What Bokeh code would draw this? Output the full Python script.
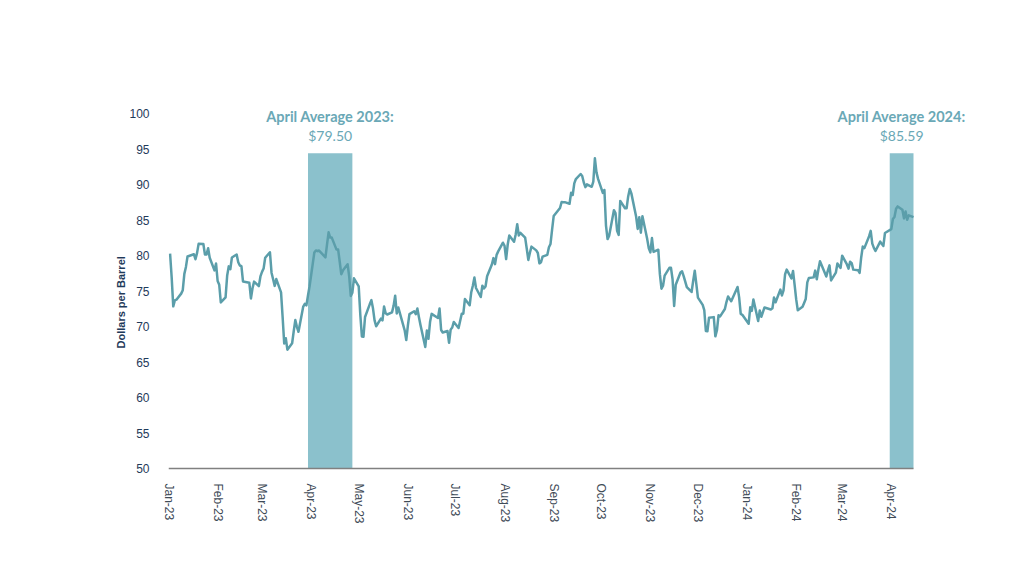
import pandas as pd
from bokeh.plotting import figure
from bokeh.models import Range1d, FixedTicker, DatetimeTickFormatter, Label, ColumnDataSource, Title
from bokeh.embed import file_html
from bokeh.resources import INLINE

# ---- data (daily crude price, $/bbl) ----
dates_2023 = [
    "2023-01-02","2023-01-03","2023-01-04","2023-01-05","2023-01-06","2023-01-09","2023-01-10","2023-01-11","2023-01-12","2023-01-13",
    "2023-01-17","2023-01-18","2023-01-19","2023-01-20","2023-01-23","2023-01-24","2023-01-25","2023-01-26","2023-01-27","2023-01-30","2023-01-31",
    "2023-02-01","2023-02-02","2023-02-03","2023-02-06","2023-02-07","2023-02-08","2023-02-09","2023-02-10","2023-02-13","2023-02-14",
    "2023-02-15","2023-02-16","2023-02-17","2023-02-21","2023-02-22","2023-02-23","2023-02-24","2023-02-27","2023-02-28",
    "2023-03-01","2023-03-02","2023-03-03","2023-03-06","2023-03-07","2023-03-08","2023-03-09","2023-03-10","2023-03-13","2023-03-14",
    "2023-03-15","2023-03-16","2023-03-17","2023-03-20","2023-03-21","2023-03-22","2023-03-23","2023-03-24","2023-03-27","2023-03-28",
    "2023-03-29","2023-03-30","2023-03-31",
    "2023-04-03","2023-04-04","2023-04-05","2023-04-06","2023-04-10","2023-04-11","2023-04-12","2023-04-13","2023-04-14","2023-04-17",
    "2023-04-18","2023-04-19","2023-04-20","2023-04-21","2023-04-24","2023-04-25","2023-04-26","2023-04-27","2023-04-28",
    "2023-05-01","2023-05-02","2023-05-03","2023-05-04","2023-05-05","2023-05-08","2023-05-09","2023-05-10","2023-05-11","2023-05-12",
    "2023-05-15","2023-05-16","2023-05-17","2023-05-18","2023-05-19","2023-05-22","2023-05-23","2023-05-24","2023-05-25","2023-05-26",
    "2023-05-30","2023-05-31",
    "2023-06-01","2023-06-02","2023-06-05","2023-06-06","2023-06-07","2023-06-08","2023-06-09","2023-06-12","2023-06-13","2023-06-14",
    "2023-06-15","2023-06-16","2023-06-20","2023-06-21","2023-06-22","2023-06-23","2023-06-26","2023-06-27","2023-06-28","2023-06-29","2023-06-30",
    "2023-07-03","2023-07-05","2023-07-06","2023-07-07","2023-07-10","2023-07-11","2023-07-12","2023-07-13","2023-07-14","2023-07-17",
    "2023-07-18","2023-07-19","2023-07-20","2023-07-21","2023-07-24","2023-07-25","2023-07-26","2023-07-27","2023-07-28","2023-07-31",
    "2023-08-01","2023-08-02","2023-08-03","2023-08-04","2023-08-07","2023-08-08","2023-08-09","2023-08-10","2023-08-11","2023-08-14",
    "2023-08-15","2023-08-16","2023-08-17","2023-08-18","2023-08-21","2023-08-22","2023-08-23","2023-08-24","2023-08-25","2023-08-28",
    "2023-08-29","2023-08-30","2023-08-31",
    "2023-09-01","2023-09-05","2023-09-06","2023-09-07","2023-09-08","2023-09-11","2023-09-12","2023-09-13","2023-09-14","2023-09-15",
    "2023-09-18","2023-09-19","2023-09-20","2023-09-21","2023-09-22","2023-09-25","2023-09-26","2023-09-27","2023-09-28","2023-09-29",
    "2023-10-02","2023-10-03","2023-10-04","2023-10-05","2023-10-06","2023-10-09","2023-10-10","2023-10-11","2023-10-12","2023-10-13",
    "2023-10-16","2023-10-17","2023-10-18","2023-10-19","2023-10-20","2023-10-23","2023-10-24","2023-10-25","2023-10-26","2023-10-27",
    "2023-10-30","2023-10-31",
    "2023-11-01","2023-11-02","2023-11-03","2023-11-06","2023-11-07","2023-11-08","2023-11-09","2023-11-10","2023-11-13","2023-11-14",
    "2023-11-15","2023-11-16","2023-11-17","2023-11-20","2023-11-21","2023-11-22","2023-11-24","2023-11-27","2023-11-28","2023-11-29","2023-11-30",
    "2023-12-01","2023-12-04","2023-12-05","2023-12-06","2023-12-07","2023-12-08","2023-12-11","2023-12-12","2023-12-13","2023-12-14",
    "2023-12-15","2023-12-18","2023-12-19","2023-12-20","2023-12-21","2023-12-22","2023-12-26","2023-12-27","2023-12-28","2023-12-29",
]
prices_2023 = [
    80.26, 76.93, 72.84, 73.67, 73.77, 74.63, 75.12, 77.41, 78.39, 79.86,
    80.18, 79.48, 80.33, 81.64, 81.62, 80.13, 80.15, 81.01, 79.68, 77.90, 78.87,
    76.41, 75.88, 73.39, 74.11, 77.14, 78.47, 78.06, 79.72, 80.14, 79.06,
    78.59, 78.49, 76.34, 76.16, 73.95, 75.39, 76.32, 75.68, 77.05,
    77.69, 78.16, 79.68, 80.46, 77.58, 76.66, 75.72, 76.68, 74.80, 71.33,
    67.61, 68.35, 66.74, 67.64, 69.33, 70.90, 69.96, 69.26, 72.81, 73.20,
    72.97, 74.37, 75.67,
    80.42, 80.71, 80.61, 80.70, 79.74, 81.53, 83.26, 82.52, 82.52, 80.83,
    80.86, 79.16, 77.37, 77.87, 78.76, 77.07, 74.30, 74.76, 76.78,
    75.66, 71.66, 68.60, 68.56, 71.34, 73.16, 73.71, 72.56, 70.87, 70.04,
    71.11, 70.86, 72.83, 71.86, 71.69, 71.99, 72.91, 74.34, 71.83, 72.67,
    69.46, 68.09,
    70.10, 71.74, 72.15, 71.74, 72.53, 71.29, 70.17, 67.12, 69.42, 68.27,
    70.62, 71.78, 71.19, 72.53, 69.51, 69.16, 69.37, 67.70, 69.56, 69.86, 70.64,
    69.79, 71.79, 71.80, 73.86, 72.99, 74.83, 75.75, 76.89, 75.42, 74.15,
    75.75, 75.35, 75.63, 77.07, 78.74, 79.63, 78.78, 80.09, 80.58, 81.80,
    81.37, 79.49, 81.55, 82.82, 81.94, 82.92, 84.40, 82.82, 83.19, 82.51,
    80.99, 79.38, 80.39, 81.25, 80.72, 80.35, 78.89, 79.05, 79.83, 80.10,
    81.16, 81.63, 83.63,
    85.55, 86.69, 87.54, 87.51, 87.51, 87.29, 88.84, 88.52, 90.16, 90.77,
    91.48, 91.20, 90.28, 89.63, 90.03, 89.68, 90.39, 93.68, 91.71, 90.79,
    88.82, 89.23, 84.22, 82.31, 82.79, 86.38, 85.97, 83.49, 82.91, 87.69,
    86.66, 86.66, 88.32, 89.37, 88.75, 85.49, 83.74, 85.39, 83.21, 85.54,
    82.31, 81.02,
    80.44, 82.46, 80.51, 80.82, 77.37, 75.33, 75.74, 77.17, 78.26, 78.26,
    76.66, 72.90, 75.89, 77.60, 77.77, 77.10, 75.54, 74.86, 76.41, 77.86, 75.96,
    74.07, 73.04, 72.32, 69.38, 69.34, 71.23, 71.32, 68.61, 69.47, 71.58,
    71.43, 72.47, 73.44, 74.22, 73.89, 73.56, 75.57, 74.11, 71.77, 71.65,
]
dates_2024 = [
    "2024-01-02","2024-01-03","2024-01-04","2024-01-05","2024-01-08","2024-01-09","2024-01-10","2024-01-11","2024-01-12","2024-01-16",
    "2024-01-17","2024-01-18","2024-01-19","2024-01-22","2024-01-23","2024-01-24","2024-01-25","2024-01-26","2024-01-29","2024-01-30","2024-01-31",
    "2024-02-01","2024-02-02","2024-02-05","2024-02-06","2024-02-07","2024-02-08","2024-02-09","2024-02-12","2024-02-13","2024-02-14",
    "2024-02-15","2024-02-16","2024-02-20","2024-02-21","2024-02-22","2024-02-23","2024-02-26","2024-02-27","2024-02-28","2024-02-29",
    "2024-03-01","2024-03-04","2024-03-05","2024-03-06","2024-03-07","2024-03-08","2024-03-11","2024-03-12","2024-03-13","2024-03-14",
    "2024-03-15","2024-03-18","2024-03-19","2024-03-20","2024-03-21","2024-03-22","2024-03-25","2024-03-26","2024-03-27","2024-03-28",
    "2024-04-01","2024-04-02","2024-04-03","2024-04-04","2024-04-05","2024-04-08","2024-04-09","2024-04-10","2024-04-11","2024-04-12","2024-04-15",
]
prices_2024 = [
    70.38, 72.70, 72.19, 73.81, 70.77, 72.24, 71.37, 72.02, 72.68, 72.40,
    72.56, 74.08, 73.41, 75.19, 74.37, 75.09, 77.36, 78.01, 76.78, 77.82, 75.85,
    73.82, 72.28, 72.78, 73.31, 73.86, 76.22, 76.84, 76.92, 77.87, 76.64,
    78.03, 79.19, 77.04, 77.91, 78.61, 76.49, 77.58, 78.87, 78.54, 78.26,
    79.97, 78.74, 78.15, 79.13, 78.93, 78.01, 77.93, 77.56, 79.72, 81.26,
    81.04, 82.72, 83.47, 81.68, 81.07, 80.63, 81.95, 81.62, 81.35, 83.17,
    83.71, 85.15, 85.43, 86.59, 86.91, 86.43, 85.23, 86.21, 85.02, 85.66, 85.41,
]

# April shading bands
band_left = ["2023-03-30", "2024-03-31"]
band_right = ["2023-04-27", "2024-04-15"]
band_top = [94.4, 94.4]
band_titles = ["April Average 2023:", "April Average 2024:"]
band_values = ["$79.50", "$85.59"]

month_ticks = pd.date_range("2023-01-01", "2024-04-01", freq="MS")
y_ticks = [50, 55, 60, 65, 70, 75, 80, 85, 90, 95, 100]

x_start, x_end = "2023-01-01", "2024-04-15"

# ---- layout helpers (the plotting frame is extended up/right so the
#      annotation text above the bands is not clipped) ----
LEFT_PX, RIGHT_PX, TOP_PX, BOTTOM_PX = 168, 913, 113, 468   # where x_start/x_end, 100/50 fall
FRAME_RIGHT, FRAME_TOP, FRAME_BOTTOM = 1012, 98, 470
YLABEL_BOTTOM_PX = 348
t0, t1 = pd.Timestamp(x_start), pd.Timestamp(x_end)
ms_per_px = (t1 - t0) / (RIGHT_PX - LEFT_PX)
val_per_px = 50.0 / (BOTTOM_PX - TOP_PX)
xr_end = t1 + ms_per_px * (FRAME_RIGHT - RIGHT_PX)
yr_end = 100 + val_per_px * (TOP_PX - FRAME_TOP)
yr_start = 50 - val_per_px * (FRAME_BOTTOM - BOTTOM_PX)

LINE = "#5b9eaa"
BAND = "#8bc1cc"
ANN = "#6aa8b6"
NAVY = "#1f3a5a"

p = figure(width=1024, height=576, x_axis_type="datetime",
           output_backend="svg", toolbar_location=None,
           x_range=Range1d(t0, xr_end), y_range=Range1d(yr_start, yr_end),
           min_border_left=LEFT_PX, min_border_right=1024 - FRAME_RIGHT,
           min_border_top=FRAME_TOP, min_border_bottom=576 - FRAME_BOTTOM)
p.outline_line_color = None
p.xgrid.grid_line_color = None
p.ygrid.grid_line_color = None
p.background_fill_color = "white"
p.border_fill_color = "white"

band_src = ColumnDataSource(dict(
    left=pd.to_datetime(band_left), right=pd.to_datetime(band_right),
    top=band_top, bottom=[50, 50]))
p.quad(left="left", right="right", top="top", bottom="bottom",
       source=band_src, fill_color=BAND, line_color=None)

# baseline (x axis line) from start to end of data period
p.segment(x0=[t0], y0=[50], x1=[t1], y1=[50], line_color="#808080", line_width=1.5)

xs = pd.to_datetime(dates_2023 + dates_2024)
ys = prices_2023 + prices_2024
p.line(xs, ys, line_width=2.5, line_color=LINE, line_join="round")

# annotations above bands
for l, r, t, v in zip(band_left, band_right, band_titles, band_values):
    cx = (pd.Timestamp(l).value + pd.Timestamp(r).value) / 2 / 1e6
    p.add_layout(Label(x=cx, y=99.6, text=t, text_align="center", text_baseline="middle",
                       text_font="Lato", text_font_style="bold", text_font_size="14.5px",
                       text_color=ANN))
    p.add_layout(Label(x=cx, y=96.9, text=v, text_align="center", text_baseline="middle",
                       text_font="Lato", text_font_size="14px", text_color=ANN))

# x axis
xa = p.xaxis[0]
xa.ticker = FixedTicker(ticks=[t.value / 1e6 for t in month_ticks])
fmt = "%b-%y"
xa.formatter = DatetimeTickFormatter(microseconds=fmt, milliseconds=fmt, seconds=fmt,
                                     minsec=fmt, minutes=fmt, hourmin=fmt, hours=fmt,
                                     days=fmt, months=fmt, years=fmt)
xa.major_label_orientation = "vertical"
xa.axis_line_color = None
xa.major_tick_line_color = None
xa.minor_tick_line_color = None
xa.major_label_standoff = 7
xa.major_label_text_font = "Liberation Sans"
xa.major_label_text_font_size = "12px"
xa.major_label_text_color = "#3f4b57"

# y axis
ya = p.yaxis[0]
ya.ticker = FixedTicker(ticks=y_ticks)
ya.axis_line_color = None
ya.major_tick_line_color = None
ya.minor_tick_line_color = None
ya.major_label_standoff = 13
ya.major_label_text_font = "Liberation Sans"
ya.major_label_text_font_size = "12px"
ya.major_label_text_color = NAVY

# y axis title placed as a left-side Title so it can be positioned like the reference
p.add_layout(Title(text="Dollars per Barrel", align="left", offset=FRAME_BOTTOM - YLABEL_BOTTOM_PX,
                   vertical_align="bottom", standoff=0,
                   text_font="Liberation Sans", text_font_style="bold",
                   text_font_size="11px", text_color=NAVY), "left")

open("out.html", "w").write(file_html(p, INLINE))
